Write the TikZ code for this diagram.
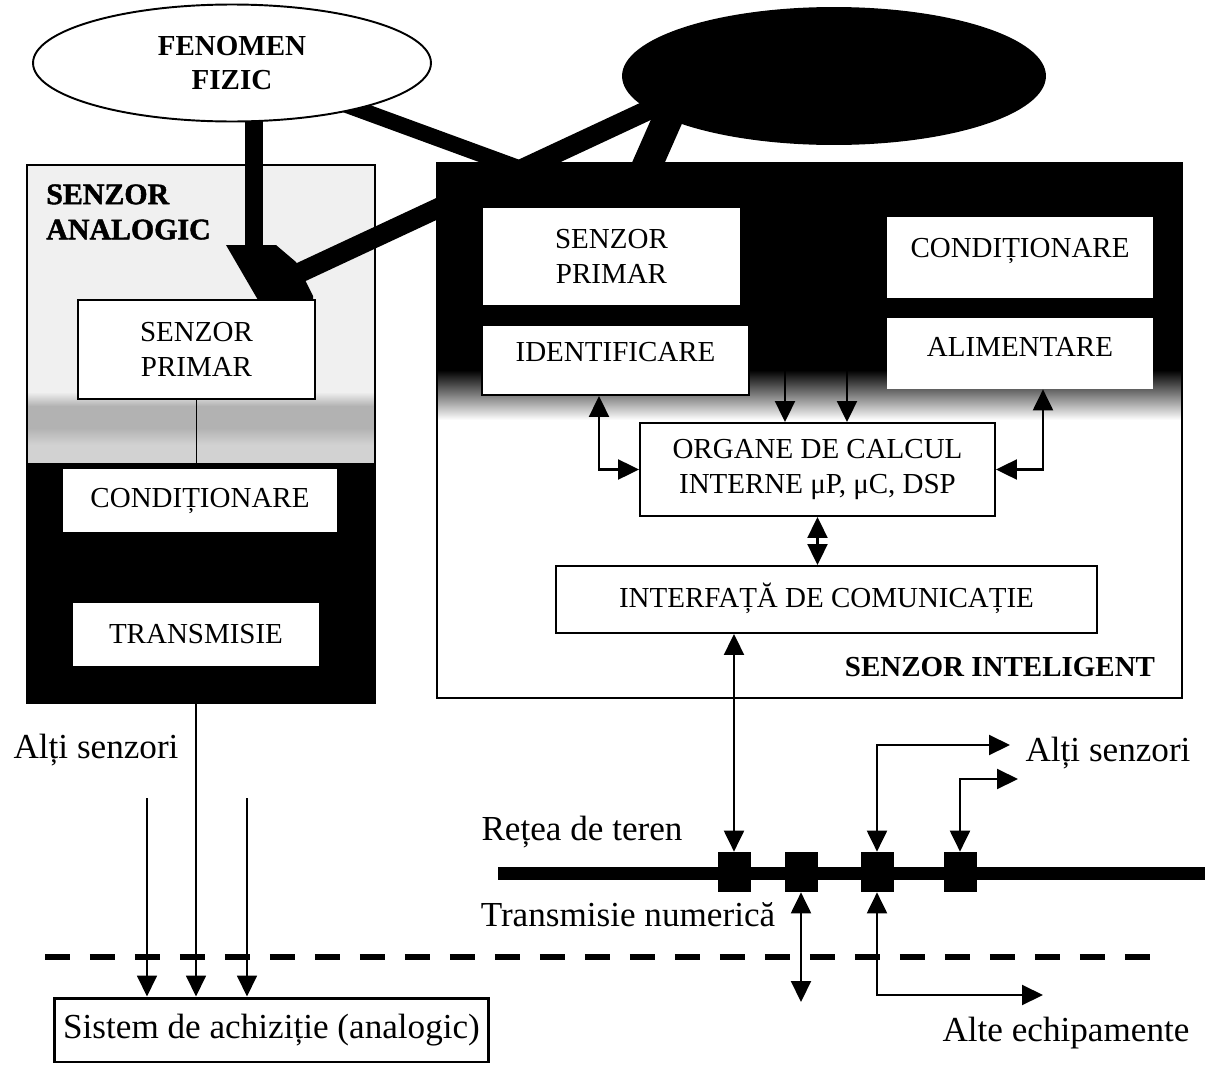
\documentclass[tikz,border=0pt]{standalone}
\usepackage{fontspec}
\setmainfont{Liberation Serif}
\usetikzlibrary{shapes.geometric,arrows.meta,fit}
\pgfdeclarelayer{base}
\pgfdeclarelayer{bg}
\pgfsetlayers{base,bg,main}
\newcommand{\boxfnt}{\fontsize{16.5}{20}\selectfont}
\newcommand{\lblfnt}{\fontsize{20}{24}\selectfont}
\newcommand{\ttlfnt}{\fontsize{16.5}{19}\selectfont\bfseries}
\begin{document}
\begin{tikzpicture}[x=0.02cm, y=-0.02cm,
  >={Triangle[width=0.4cm,length=0.42cm]},
  inbox/.style={inner sep=0pt, fill=white, align=center, font=\boxfnt},
  framed/.style={inbox, draw, line width=1.1pt},
  sz/.style n args={2}{minimum width=#1, minimum height=#2},
  lbl/.style={inner sep=0pt, font=\lblfnt},
  bar/.style={line width=#1, line cap=butt},
  link/.style={line width=1.2pt},
  tap/.style={fill=black, minimum width=0.66cm, minimum height=0.8cm, inner sep=0pt}
]
\useasboundingbox (0,0) rectangle (1205,1065);

% ---------- housings ----------
\begin{pgfonlayer}{base}
  % analog sensor: light upper part, dark lower part
  \fill[gray!12] (27,165) rectangle (375,392);
  \shade[top color=gray!12, bottom color=gray!60] (27,392) rectangle (375,406);
  \fill[gray!60] (27,406) rectangle (375,428);
  \shade[top color=gray!60, bottom color=gray!35] (27,428) rectangle (375,445);
  \fill[gray!35] (27,445) rectangle (375,463);
  \fill[black] (27,463) rectangle (375,703);
  \node[fit={(27,165) (375,703)}, inner sep=0pt, draw, line width=1.2pt] (ana) {};
  % smart sensor
  \fill[black] (437,163) rectangle (1182,370);
  \shade[top color=black, bottom color=white] (437,370) rectangle (1182,420);
  \node[fit={(437,163) (1182,698)}, inner sep=0pt, draw, line width=1.6pt] (intel) {};
\end{pgfonlayer}

% ---------- physical phenomenon and the dark ellipse ----------
\node[ellipse, draw, line width=1.1pt, fill=white, minimum width=7.96cm,
      minimum height=2.34cm, inner sep=0pt, align=center, font=\ttlfnt] (fen) at (232,63) {FENOMEN\\FIZIC};
\node[ellipse, fill=black, minimum width=8.48cm, minimum height=2.76cm, inner sep=0pt] (blk) at (834,76) {};

\coordinate (bl) at (254,252);
\coordinate (l1e) at (565,185);
\coordinate (l2s) at (297,274);
\coordinate (l2e) at (700,86);
\coordinate (l3s) at (676,100);
\coordinate (l3e) at (646,168);

\begin{pgfonlayer}{bg}
  \draw[bar=0.32cm] (fen.center) -- (l1e);
  \draw[bar=0.36cm] (fen.center -| bl) -- (bl);
  \fill (226,245) -- (276,245) -- (296,262) -- (313,296) -- (313,300) -- (258,300) -- cycle;
  \draw[bar=0.4cm] (l2s) -- (l2e);
  \draw[bar=0.6cm] (l3s) -- (l3e);
\end{pgfonlayer}

% ---------- analog sensor ----------
\node[anchor=west, align=left, inner sep=0pt,
      font={\fontsize{17}{20}\selectfont\bfseries\addfontfeature{FakeBold=1.5}}] (anat) at (46,212) {SENZOR\\ANALOGIC};
\node[framed, line width=1.5pt, sz={4.74cm}{1.98cm}] (sp1) at (196.5,349.5) {SENZOR\\PRIMAR};
\node[inbox, sz={5.48cm}{1.26cm}] (cd1) at (200,500.5) {CONDIȚIONARE};
\node[inbox, sz={4.92cm}{1.26cm}] (tr1) at (196,634.5) {TRANSMISIE};
\draw[line width=1pt] (sp1.south) -- (sp1.south |- cd1.north);

% ---------- smart sensor ----------
\node[inbox, sz={5.14cm}{1.94cm}] (sp2) at (611.5,256.5) {SENZOR\\PRIMAR};
\node[inbox, sz={5.32cm}{1.62cm}, text depth=0.4cm] (cd2) at (1020,257.5) {CONDIȚIONARE};
\node[inbox, sz={5.32cm}{1.42cm}, text depth=0.26cm] (al) at (1020,353.5) {ALIMENTARE};
\node[framed, sz={5.34cm}{1.4cm}, text depth=0.32cm] (id) at (615.5,360) {IDENTIFICARE};
\node[framed, sz={7.1cm}{1.86cm}] (org) at (817.5,469.5) {ORGANE DE CALCUL\\INTERNE μP, μC, DSP};
\node[framed, sz={10.82cm}{1.34cm}, text depth=0.18cm] (ifc) at (826.5,599.5) {INTERFAȚĂ DE COMUNICAȚIE};
\node[inner sep=0pt, font=\ttlfnt] (sil) at (1000,667) {SENZOR INTELIGENT};

\coordinate (c1) at (785,340);
\coordinate (c2) at (847,340);
\draw[link,->] (c1) -- (c1 |- org.north);
\draw[link,->] (c2) -- (c2 |- org.north);
\draw[link,<->] ([xshift=-0.33cm]id.south) |- (org.west);
\draw[link,<->] ([xshift=0.46cm]al.south) |- (org.east);
\draw[link,<->] (org.south) -- (org.south |- ifc.north);

% ---------- field bus ----------
\draw[bar=0.26cm] (498,873) -- (1205,873);
\node[tap] (n1) at (734,872) {};
\node[tap] (n2) at (801,872) {};
\node[tap] (n3) at (877,872) {};
\node[tap] (n4) at (960,872) {};

\draw[link,<->] (n1.north |- ifc.south) -- (n1.north);

\coordinate (as1) at (1010,745);
\coordinate (as2) at (1018,779);
\coordinate (ae1) at (1043,995);
\coordinate (n2d) at (801,1002);
\draw[link,<->] (n3.north) |- (as1);
\draw[link,<->] (n4.north) |- (as2);
\draw[link,<->] (n3.south) |- (ae1);
\draw[link,<->] (n2.south) -- (n2d);

\node[lbl] (alt2) at (1108,753) {Alți senzori};
\node[lbl] (ret) at (582,832) {Rețea de teren};
\node[lbl] (tn) at (628,915) {Transmisie numerică};
\node[lbl] (ech) at (1066,1033) {Alte echipamente};

% ---------- analog acquisition ----------
\draw[line width=3.4pt, dash pattern=on 0.5cm off 0.4cm] (45,957) -- (1160,957);
\node[draw, line width=1.7pt, inner sep=0pt, font=\lblfnt, sz={8.7cm}{1.28cm}] (acq) at (271.5,1030) {Sistem de achiziție (analogic)};
\node[lbl] (alt1) at (96,750) {Alți senzori};

\coordinate (sa1) at (147,798);
\coordinate (sa2) at (247,798);
\draw[line width=1pt,->] (tr1.south |- ana.south) -- (tr1.south |- acq.north);
\draw[line width=1pt,->] (sa1) -- (sa1 |- acq.north);
\draw[line width=1pt,->] (sa2) -- (sa2 |- acq.north);
\end{tikzpicture}
\end{document}
